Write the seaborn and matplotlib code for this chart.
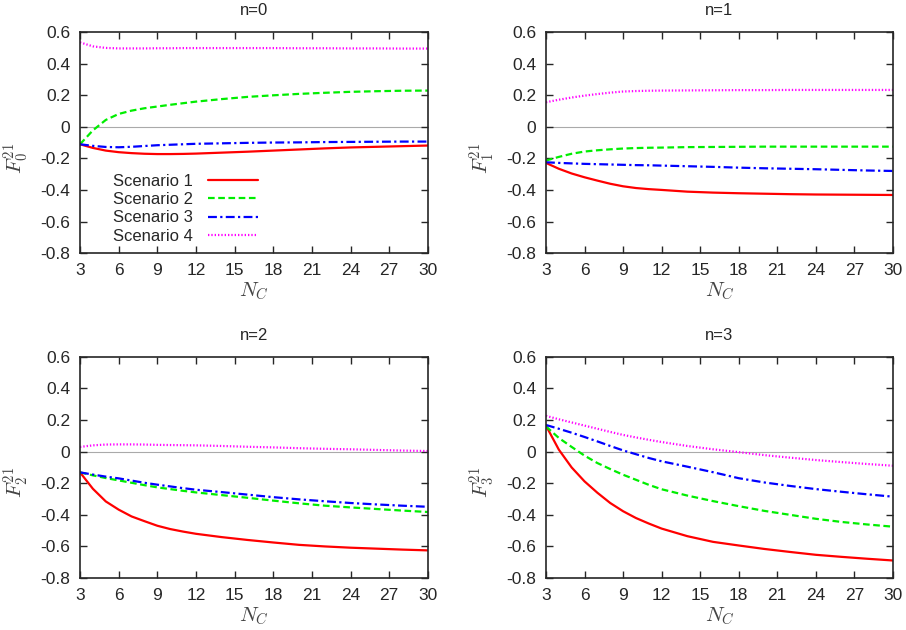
import numpy as np
import pandas as pd
import matplotlib
matplotlib.use("Agg")
import matplotlib.pyplot as plt
import seaborn as sns

# N_C sample points
nc = [3, 4, 5, 6, 7, 8, 9, 10, 11, 12, 14, 16, 18, 20, 22, 24, 26, 28, 30]

# n=0
s1_n0 = [-0.110, -0.133, -0.150, -0.160, -0.166, -0.170, -0.172, -0.172, -0.171, -0.169, -0.163, -0.157, -0.150, -0.143, -0.136, -0.130, -0.126, -0.122, -0.118]
s2_n0 = [-0.110, -0.022, 0.044, 0.082, 0.103, 0.118, 0.129, 0.140, 0.150, 0.160, 0.176, 0.190, 0.200, 0.209, 0.216, 0.222, 0.226, 0.229, 0.230]
s3_n0 = [-0.110, -0.120, -0.127, -0.129, -0.126, -0.121, -0.116, -0.113, -0.110, -0.107, -0.104, -0.101, -0.099, -0.098, -0.096, -0.095, -0.094, -0.093, -0.093]
s4_n0 = [0.535, 0.510, 0.500, 0.497, 0.497, 0.497, 0.498, 0.498, 0.499, 0.499, 0.499, 0.499, 0.499, 0.498, 0.498, 0.497, 0.497, 0.496, 0.496]

# n=1
s1_n1 = [-0.228, -0.265, -0.295, -0.319, -0.340, -0.360, -0.376, -0.387, -0.394, -0.399, -0.410, -0.416, -0.420, -0.423, -0.426, -0.428, -0.429, -0.430, -0.431]
s2_n1 = [-0.213, -0.190, -0.170, -0.156, -0.148, -0.142, -0.137, -0.134, -0.132, -0.131, -0.128, -0.127, -0.126, -0.125, -0.125, -0.125, -0.125, -0.125, -0.125]
s3_n1 = [-0.224, -0.228, -0.231, -0.234, -0.236, -0.238, -0.240, -0.242, -0.243, -0.245, -0.249, -0.253, -0.258, -0.262, -0.265, -0.268, -0.272, -0.276, -0.279]
s4_n1 = [0.156, 0.172, 0.186, 0.198, 0.208, 0.217, 0.224, 0.227, 0.229, 0.230, 0.231, 0.232, 0.233, 0.233, 0.234, 0.234, 0.234, 0.234, 0.234]

# n=2
s1_n2 = [-0.131, -0.235, -0.315, -0.367, -0.410, -0.440, -0.469, -0.490, -0.506, -0.520, -0.541, -0.559, -0.575, -0.590, -0.600, -0.608, -0.614, -0.620, -0.625]
s2_n2 = [-0.131, -0.150, -0.167, -0.182, -0.197, -0.212, -0.226, -0.237, -0.248, -0.258, -0.275, -0.292, -0.310, -0.327, -0.342, -0.353, -0.363, -0.373, -0.382]
s3_n2 = [-0.131, -0.145, -0.158, -0.169, -0.183, -0.197, -0.209, -0.220, -0.231, -0.241, -0.256, -0.272, -0.288, -0.302, -0.314, -0.325, -0.334, -0.342, -0.349]
s4_n2 = [0.030, 0.040, 0.045, 0.046, 0.046, 0.045, 0.043, 0.042, 0.041, 0.040, 0.036, 0.031, 0.027, 0.022, 0.018, 0.015, 0.011, 0.007, 0.004]

# n=3
s1_n3 = [0.165, 0.013, -0.100, -0.188, -0.260, -0.325, -0.377, -0.420, -0.455, -0.487, -0.535, -0.571, -0.594, -0.616, -0.635, -0.653, -0.666, -0.678, -0.689]
s2_n3 = [0.160, 0.087, 0.030, -0.025, -0.072, -0.110, -0.146, -0.178, -0.210, -0.238, -0.278, -0.313, -0.345, -0.375, -0.400, -0.425, -0.445, -0.461, -0.475]
s3_n3 = [0.169, 0.145, 0.120, 0.093, 0.065, 0.036, 0.008, -0.016, -0.040, -0.061, -0.095, -0.130, -0.168, -0.195, -0.217, -0.237, -0.254, -0.270, -0.285]
s4_n3 = [0.227, 0.205, 0.185, 0.165, 0.145, 0.125, 0.106, 0.090, 0.075, 0.061, 0.036, 0.015, -0.003, -0.022, -0.038, -0.053, -0.066, -0.078, -0.089]

scenarios = ["Scenario 1", "Scenario 2", "Scenario 3", "Scenario 4"]
panels = [
    ("n=0", r"$F_0^{21}$", [s1_n0, s2_n0, s3_n0, s4_n0]),
    ("n=1", r"$F_1^{21}$", [s1_n1, s2_n1, s3_n1, s4_n1]),
    ("n=2", r"$F_2^{21}$", [s1_n2, s2_n2, s3_n2, s4_n2]),
    ("n=3", r"$F_3^{21}$", [s1_n3, s2_n3, s3_n3, s4_n3]),
]

colors = {"Scenario 1": "#ff0000", "Scenario 2": "#00ee00",
          "Scenario 3": "#0000ff", "Scenario 4": "#ff00ff"}
dashes = {"Scenario 1": "", "Scenario 2": (3, 1.6),
          "Scenario 3": (4, 1.5, 1, 1.5), "Scenario 4": (0.6, 0.9)}

sns.set_style("ticks")
plt.rcParams["font.family"] = ["Liberation Sans", "DejaVu Sans"]
plt.rcParams["mathtext.fontset"] = "cm"

fig = plt.figure(figsize=(9.06, 6.3), dpi=100)
boxes = [
    (0.0883, 0.598, 0.384, 0.351),
    (0.6026, 0.598, 0.383, 0.351),
    (0.0883, 0.0825, 0.384, 0.351),
    (0.6026, 0.0825, 0.383, 0.351),
]

for (title, ylab, series), box in zip(panels, boxes):
    ax = fig.add_axes(box)
    rows = []
    for name, vals in zip(scenarios, series):
        for x, y in zip(nc, vals):
            rows.append({"NC": x, "F": y, "scenario": name})
    df = pd.DataFrame(rows)
    ax.axhline(0, color="#aaaaaa", lw=0.8, zorder=0)
    sns.lineplot(data=df, x="NC", y="F", hue="scenario", style="scenario",
                 palette=colors, dashes=dashes, linewidth=1.6, ax=ax,
                 legend=(title == "n=0"))
    ax.set_xlim(3, 30)
    ax.set_ylim(-0.8, 0.6)
    ax.set_xticks(np.arange(3, 31, 3))
    ax.set_yticks(np.arange(-0.8, 0.61, 0.2))
    ax.set_yticklabels(["-0.8", "-0.6", "-0.4", "-0.2", "0", "0.2", "0.4", "0.6"])
    ax.tick_params(direction="in", top=True, right=True, length=5, width=1,
                   labelsize=12.5, pad=7)
    for sp in ax.spines.values():
        sp.set_linewidth(1.2)
    ax.set_title(title, fontsize=12, pad=12)
    ax.set_xlabel(r"$N_C$", fontsize=15, color="#444444", labelpad=2)
    ax.set_ylabel(ylab, fontsize=15, color="#444444")
    ax.yaxis.set_label_coords(-0.14, 0.43)
    if title == "n=0":
        leg = ax.legend(loc="lower left", bbox_to_anchor=(0.06, -0.01), frameon=False,
                        markerfirst=False, fontsize=12, handlelength=3.0,
                        labelspacing=0.2, borderaxespad=0.3, handletextpad=0.9)

fig.savefig("out.png", dpi=100)
